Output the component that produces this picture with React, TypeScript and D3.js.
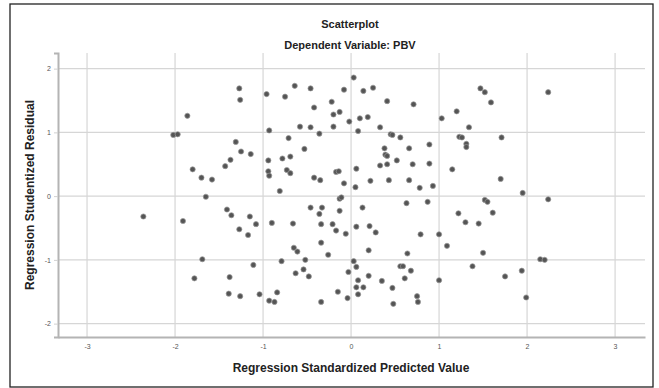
import React, { useRef, useEffect } from "react";
import * as d3 from "d3";

// predicted values (x) and studentized residuals (y)
const predicted = [
  -1.27, -1.26, -1.86, -2.02, -1.97, -1.31, -1.25, -1.14, -1.43, -1.37, -1.8, -1.7, -1.58, -1.65,
  -0.96, -0.75, -0.64, -0.46, 0.03, -0.08, 0.14, 0.25, -0.22, -0.42, 0.41, 0.71, -0.2, -0.13, -0.02,
  0.1, 0.19, 1.03, 1.2, -0.93, -0.58, -0.46, -0.36, -0.2, 0.08, 0.33, 0.45, 0.47, 0.56, -0.71, -0.53,
  0.38, 0.66, 0.89, 0.39, 0.41, -0.94, -0.78, -0.69, 0.52, 0.33, 0.41, 0.7, 0.89, 1.23, -0.94, -0.93,
  -0.73, -0.69, -0.17, -0.14, 0.06, 1.15, -0.42, -0.35, -0.08, 0.22, 0.43, 0.66, 0.05, 0.78, 0.93,
  -0.81, -0.13, -0.11, 0.63, 0.87, 1.47, 1.52, 1.59, 2.24, 1.34, 1.26, 1.71, 1.31, 1.31, 1.7, 1.95,
  1.52, 1.55, 2.24, -2.36, -1.91, -1.41, -1.36, -1.15, -1.08, -1.27, -1.17, -1.69, -1.11, -1.78,
  -1.38, -1.39, -1.26, -1.04, -0.9, -0.66, -0.46, -0.33, -0.36, -0.13, 0.13, 1.22, -0.34, -0.21,
  -0.17, -0.06, 0.06, 0.21, 0.28, -0.34, 0.79, 1.0, 1.09, -0.65, -0.61, -0.26, 0.2, 0.64, -0.79,
  -0.52, 0.03, 0.06, -0.54, -0.63, -0.48, -0.03, 0.2, 0.56, 0.59, 0.68, 0.61, 1.0, 0.08, 0.06, 0.14,
  0.35, 0.47, -0.84, -0.93, -0.87, -0.34, -0.15, -0.04, 0.08, 0.48, 0.75, 0.76, 1.61, 1.3, 1.45, 1.5,
  2.15, 2.2, 1.38, 1.94, 1.75, 1.99,
];
const residual = [
  1.69, 1.51, 1.26, 0.96, 0.97, 0.85, 0.7, 0.66, 0.47, 0.57, 0.42, 0.29, 0.26, -0.01,
  1.6, 1.56, 1.73, 1.69, 1.86, 1.67, 1.65, 1.7, 1.48, 1.39, 1.49, 1.44, 1.28, 1.32, 1.17,
  1.22, 1.24, 1.22, 1.33, 1.03, 1.09, 1.08, 0.98, 1.09, 1.02, 1.08, 0.97, 0.96, 0.92, 0.91, 0.74,
  0.75, 0.75, 0.81, 0.65, 0.63, 0.56, 0.59, 0.62, 0.56, 0.48, 0.5, 0.5, 0.51, 0.93, 0.39, 0.32,
  0.41, 0.36, 0.38, 0.39, 0.43, 0.42, 0.29, 0.25, 0.2, 0.24, 0.25, 0.25, 0.14, 0.13, 0.16,
  0.08, -0.04, -0.02, -0.11, -0.09, 1.69, 1.63, 1.47, 1.63, 1.08, 0.92, 0.92, 0.82, 0.77, 0.27, 0.05,
  -0.06, -0.09, -0.05, -0.32, -0.39, -0.21, -0.3, -0.32, -0.44, -0.52, -0.61, -0.99, -1.08, -1.29,
  -1.27, -1.53, -1.57, -1.54, -0.42, -0.43, -0.18, -0.18, -0.28, -0.23, -0.18, -0.27, -0.44, -0.44,
  -0.54, -0.59, -0.48, -0.47, -0.57, -0.73, -0.6, -0.6, -0.78, -0.81, -0.87, -0.92, -0.85, -0.9, -1.02,
  -1.0, -1.02, -1.11, -1.15, -1.21, -1.26, -1.19, -1.25, -1.1, -1.1, -1.17, -1.29, -1.32, -1.32, -1.43, -1.43,
  -1.33, -1.44, -1.51, -1.64, -1.66, -1.66, -1.5, -1.6, -1.54, -1.69, -1.57, -1.66, -0.26, -0.41, -0.43, -0.89,
  -0.99, -1.0, -1.1, -1.17, -1.26, -1.59,
];
const xTicks = [-3, -2, -1, 0, 1, 2, 3];
const yTicks = [-2, -1, 0, 1, 2];

const title = "Scatterplot";
const subtitle = "Dependent Variable: PBV";
const xTitle = "Regression Standardized Predicted Value";
const yTitle = "Regression Studentized Residual";

const W = 659;
const H = 388;
const M = { left: 58, right: 14, top: 53, bottom: 51 };
const FONT = "'Liberation Sans', Arial, sans-serif";

export default function App() {
  const gRef = useRef<SVGGElement>(null);

  useEffect(() => {
    const g = d3.select(gRef.current);
    g.selectAll("*").remove();

    const x = d3.scaleLinear().domain([-3.33, 3.34]).range([M.left, W - M.right]);
    const y = d3.scaleLinear().domain([-2.21, 2.245]).range([H - M.bottom, M.top]);

    // grid
    g.append("g")
      .selectAll("line")
      .data(xTicks)
      .join("line")
      .attr("x1", (d) => x(d))
      .attr("x2", (d) => x(d))
      .attr("y1", y.range()[1])
      .attr("y2", y.range()[0])
      .attr("stroke", "#d6d6d6")
      .attr("stroke-width", 1.2);
    g.append("g")
      .selectAll("line")
      .data(yTicks)
      .join("line")
      .attr("x1", x.range()[0])
      .attr("x2", x.range()[1])
      .attr("y1", (d) => y(d))
      .attr("y2", (d) => y(d))
      .attr("stroke", "#d6d6d6")
      .attr("stroke-width", 1.2);

    // axes - plain hyphen for negatives like the original
    const fmt = (d: any) => String(d);
    const xAxis = d3.axisBottom(x).tickValues(xTicks).tickFormat(fmt).tickSize(0).tickPadding(7);
    const yAxis = d3.axisLeft(y).tickValues(yTicks).tickFormat(fmt).tickSize(4).tickPadding(3);
    const gx = g.append("g").attr("transform", `translate(0,${H - M.bottom})`).call(xAxis);
    const gy = g.append("g").attr("transform", `translate(${M.left},0)`).call(yAxis);
    [gx, gy].forEach((a) => {
      a.select(".domain").attr("stroke", "#b4b4b4").attr("stroke-width", 2);
      a.selectAll(".tick line").attr("stroke", "#d0d0d0");
      a.selectAll("text").attr("fill", "#555").attr("font-size", 7).attr("font-family", FONT);
    });

    // points
    g.append("g")
      .selectAll("circle")
      .data(predicted.map((p, i) => [p, residual[i]]))
      .join("circle")
      .attr("cx", (d) => x(d[0]))
      .attr("cy", (d) => y(d[1]))
      .attr("r", 2.6)
      .attr("fill", "#555")
      .attr("stroke", "#999")
      .attr("stroke-width", 0.7);
  }, []);

  return (
    <svg width={W} height={H} style={{ position: "absolute", left: 0, top: 0, background: "#fff" }}>
      <rect x={10} y={4} width={643} height={383} fill="#fff" stroke="#222" strokeWidth={1.3} />
      <g ref={gRef} />
      <text x={350} y={28} textAnchor="middle" fontFamily={FONT} fontWeight="bold" fontSize={11} fill="#222">
        {title}
      </text>
      <text x={350} y={49} textAnchor="middle" fontFamily={FONT} fontWeight="bold" fontSize={11} fill="#222">
        {subtitle}
      </text>
      <text x={351} y={372} textAnchor="middle" fontFamily={FONT} fontWeight="bold" fontSize={12} fill="#222">
        {xTitle}
      </text>
      <text
        transform="translate(34,195) rotate(-90)"
        textAnchor="middle"
        fontFamily={FONT}
        fontWeight="bold"
        fontSize={12}
        fill="#222"
      >
        {yTitle}
      </text>
    </svg>
  );
}
